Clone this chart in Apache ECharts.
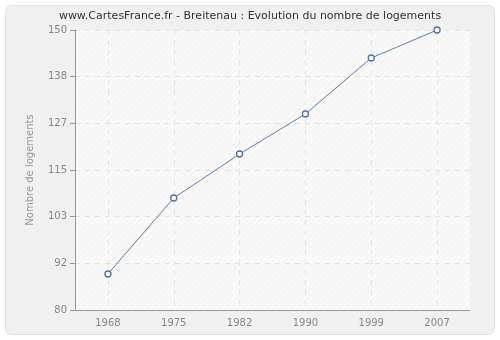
<!DOCTYPE html>
<html><head><meta charset="utf-8">
<script src="https://cdn.jsdelivr.net/npm/echarts@6/dist/echarts.min.js"></script>
<style>html,body{margin:0;padding:0;background:#fff}#c{width:500px;height:340px}</style>
</head><body><div id="c"></div>
<script>
const categories = ['1968','1975','1982','1990','1999','2007'];
const logements = [89, 108, 119, 129, 143, 150];
const yMin = 80, yMax = 150;

const pat = document.createElement('canvas');
pat.width = 6; pat.height = 6;
const pc = pat.getContext('2d');
pc.fillStyle = '#f9f9f9'; pc.fillRect(0,0,6,6);
pc.strokeStyle = '#f0f0f0'; pc.lineWidth = 1;
pc.beginPath(); pc.moveTo(0,6); pc.lineTo(6,0); pc.moveTo(-1,1); pc.lineTo(1,-1); pc.moveTo(5,7); pc.lineTo(7,5); pc.stroke();

const chart = echarts.init(document.getElementById('c'), null, {renderer:'canvas'});
chart.setOption({
  animation:false,
  backgroundColor:'#ffffff',
  graphic:[{type:'rect', z:-10, shape:{x:5.5,y:5.5,width:489,height:329,r:6},
    style:{fill:'#f0f0f0', stroke:'#e2e2e2', lineWidth:1}}],
  title:{text:'www.CartesFrance.fr - Breitenau : Evolution du nombre de logements',
    left:'center', top:6, textStyle:{fontFamily:'DejaVu Sans', fontSize:11, fontWeight:'normal', color:'#333'}},
  grid:{left:75, right:30, top:30, bottom:30, show:true, backgroundColor:{image:pat, repeat:'repeat'}, borderColor:'#e8e8e8', borderWidth:0},
  xAxis:{type:'category', data:categories, boundaryGap:true,
    axisLine:{lineStyle:{color:'#999'}},
    axisTick:{alignWithLabel:true, length:5, lineStyle:{color:'#999'}},
    axisLabel:{color:'#888', fontFamily:'DejaVu Sans', fontSize:10, margin:8},
    splitLine:{show:true, alignWithLabel:true, lineStyle:{color:'#e2e2e2', type:[5,5]}}},
  yAxis:{type:'value', min:yMin, max:yMax, interval:(yMax-yMin)/6,
    name:'Nombre de logements', nameLocation:'middle', nameGap:40, nameRotate:90,
    nameTextStyle:{color:'#999', fontFamily:'DejaVu Sans', fontSize:10},
    axisLine:{show:true, lineStyle:{color:'#999'}},
    axisTick:{show:true, length:5, lineStyle:{color:'#999'}},
    axisLabel:{color:'#888', fontFamily:'DejaVu Sans', fontSize:10, margin:8, formatter:v=>Math.round(v)},
    splitLine:{show:true, lineStyle:{color:'#e2e2e2', type:[5,5]}}},
  series:[{type:'line', data:logements, symbol:'circle', symbolSize:6,
    lineStyle:{color:'#5b80ad', width:1},
    itemStyle:{color:'#ffffff', borderColor:'#4a72a6', borderWidth:1.3}}]
});
</script></body></html>
